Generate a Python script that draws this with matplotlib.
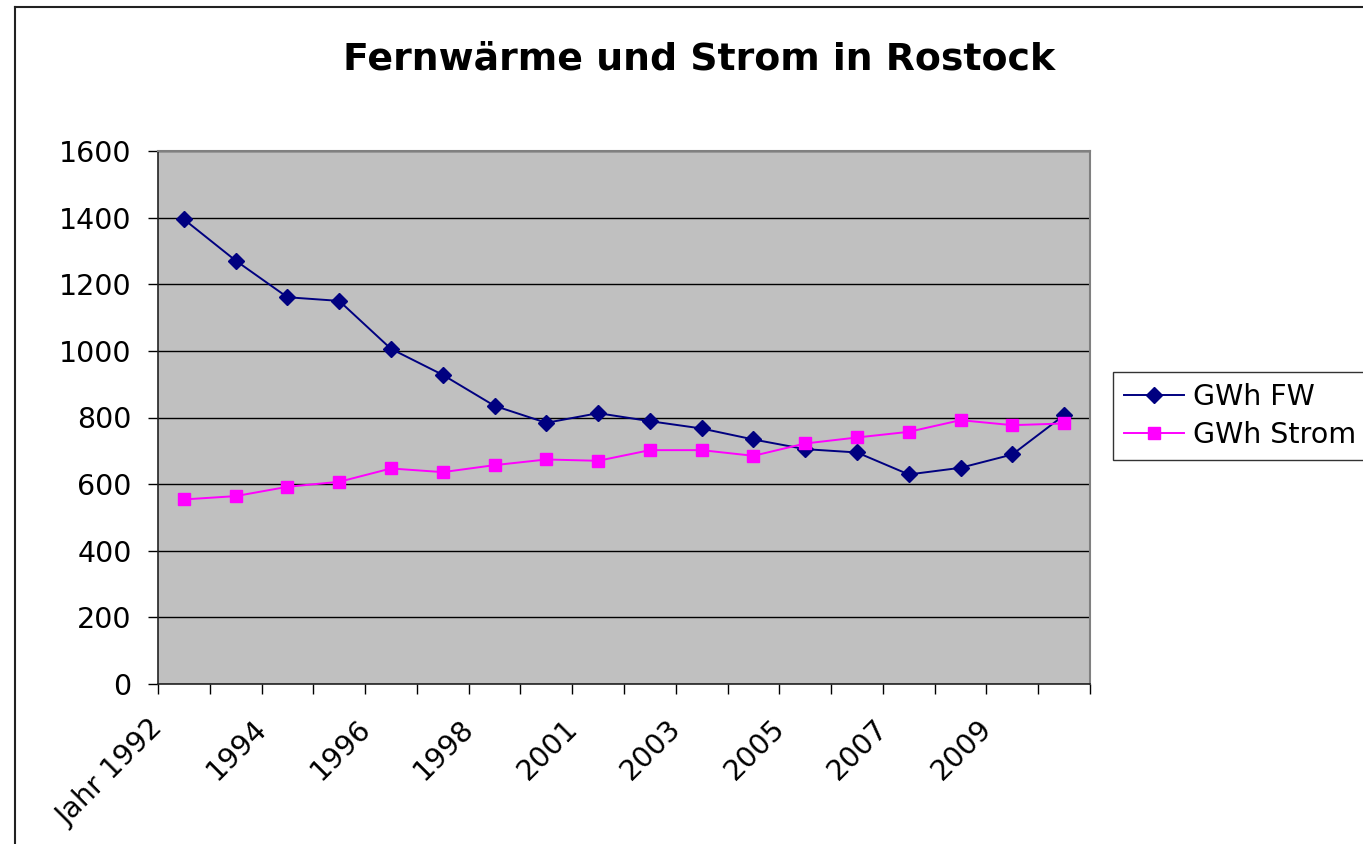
import matplotlib.pyplot as plt
import numpy as np
from matplotlib.lines import Line2D
from matplotlib.transforms import ScaledTranslation

plt.rcParams['font.family'] = ['DejaVu Sans']

jahre = ['Jahr 1992', '1993', '1994', '1995', '1996', '1997', '1998', '2000',
         '2001', '2002', '2003', '2004', '2005', '2006', '2007', '2008',
         '2009', '2010']
gwh_fw = [1395, 1271, 1161, 1150, 1006, 928, 835, 784, 813, 789, 767, 734,
          705, 695, 629, 649, 689, 807]
gwh_strom = [554, 564, 592, 607, 647, 636, 657, 674, 670, 702, 702, 685,
             722, 740, 757, 792, 777, 782]

fig = plt.figure(figsize=(13.63, 8.44), dpi=100)
ax = fig.add_axes([158/1363, 1-684/844, (1090-158)/1363, (684-151)/844])
ax.set_facecolor('#c0c0c0')

x = np.arange(len(jahre))
ax.plot(x, gwh_fw, color='#000080', lw=1.4, marker='D', ms=8.5,
        label='GWh FW', zorder=3)
ax.plot(x, gwh_strom, color='#ff00ff', lw=1.4, marker='s', ms=9,
        label='GWh Strom', zorder=3)

ax.set_xlim(-0.5, len(jahre) - 0.5)
ax.set_ylim(0, 1600)
ax.set_yticks(np.arange(0, 1601, 200))
ax.yaxis.grid(True, color='black', lw=1)
ax.set_axisbelow(True)
ax.tick_params(axis='y', labelsize=20.5, length=7, width=1, direction='out', pad=12)

# Kategorien-Ticks an den Grenzen, Beschriftung jede zweite Kategorie
ax.set_xticks(np.arange(-0.5, len(jahre)), minor=True)
ax.set_xticks(x[::2])
ax.set_xticklabels(jahre[::2], rotation=45, ha='right', va='center',
                   rotation_mode='anchor', fontsize=20.5)
ax.tick_params(axis='x', which='major', length=0, pad=29)
ax.tick_params(axis='x', which='minor', length=7, width=1, direction='out')
verschiebung = ScaledTranslation(-0.25, 0, fig.dpi_scale_trans)
for lab in ax.get_xticklabels():
    lab.set_transform(lab.get_transform() + verschiebung)

for s in ['top', 'right']:
    ax.spines[s].set_color('#808080')
    ax.spines[s].set_linewidth(1.5)
for s in ['left', 'bottom']:
    ax.spines[s].set_color('#222222')
    ax.spines[s].set_linewidth(1.2)

fig.text(699/1363, 1-60/844, 'Fernwärme und Strom in Rostock', ha='center',
         va='center', fontsize=27.3, fontweight='bold')

leg = ax.legend(loc='center left', bbox_to_anchor=(1113/1363, 1-416/844),
                bbox_transform=fig.transFigure, fontsize=20.5, frameon=True,
                fancybox=False, edgecolor='black', handlelength=2.1,
                handletextpad=0.3, borderpad=0.4, labelspacing=0.35,
                borderaxespad=0)
leg.get_frame().set_linewidth(1)

# Rahmen des Diagrammbereichs
fig.add_artist(Line2D([15/1363, 15/1363], [0, 1-7/844], color='#222222', lw=1.5))
fig.add_artist(Line2D([15/1363, 1], [1-7/844, 1-7/844], color='#222222', lw=1.5))

fig.savefig('out.png', dpi=100)
